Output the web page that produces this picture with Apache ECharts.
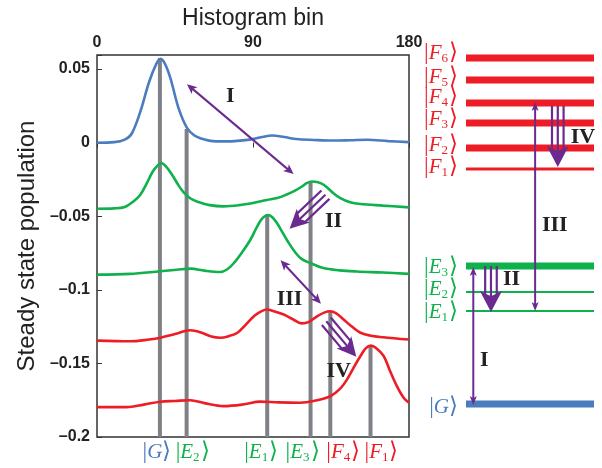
<!DOCTYPE html>
<html>
<head>
<meta charset="utf-8">
<script src="https://cdn.jsdelivr.net/npm/echarts@6/dist/echarts.min.js"></script>
<style>
  html, body { margin: 0; padding: 0; background: #fff; }
  #main { width: 602px; height: 468px; }
</style>
</head>
<body>
<div id="main"></div>
<script>
// histogram curves, [bin, population]
const blueCurve = [[0, -0.0001], [10, 0.0003], [16, 0.002], [20, 0.006], [25, 0.021], [30, 0.041], [34, 0.053], [36.5, 0.057],
  [39, 0.054], [42.3, 0.044], [47, 0.0236], [51.9, 0.010], [56, 0.005], [60, 0.0028], [67, 0.001], [75, 0.0008], [88, 0.002],
  [96, 0.004], [101, 0.0048], [108, 0.0038], [115, 0.0024], [125, 0.0018], [136, 0.0014], [146, 0.0016], [156, 0.0019],
  [168, 0.001], [180, 0.0003]]
const greenUpper = [[0, -0.0449], [10, -0.0447], [16, -0.0438], [21, -0.040], [25, -0.0354], [29, -0.027], [32, -0.020],
  [35, -0.0155], [37, -0.0139], [40, -0.0165], [43.3, -0.0218], [47, -0.029], [50, -0.0338], [54, -0.038], [58, -0.0402],
  [65, -0.0425], [73, -0.0433], [82, -0.0425], [90, -0.041], [98, -0.039], [104, -0.0377], [109, -0.0355], [113.4, -0.0332],
  [118, -0.030], [121, -0.0275], [124, -0.0264], [127, -0.0268], [131, -0.0288], [136, -0.034], [140.4, -0.0377],
  [146, -0.0405], [152, -0.0417], [165, -0.0428], [180, -0.044]]
const greenLower = [[0, -0.0897], [19, -0.0892], [36.5, -0.0874], [46, -0.0864], [54, -0.0856], [62, -0.087], [71, -0.0879],
  [75, -0.0862], [79, -0.0818], [84, -0.074], [88.5, -0.066], [92, -0.058], [95, -0.052], [98.5, -0.0492], [101, -0.0505],
  [104, -0.055], [107, -0.061], [110, -0.067], [114, -0.074], [118, -0.079], [123, -0.0818], [130, -0.085], [140, -0.0868],
  [150, -0.0876], [165, -0.0883], [180, -0.0892]]
const redUpper = [[0, -0.1345], [19, -0.135], [30, -0.1338], [36.5, -0.1326], [45, -0.130], [53.8, -0.1275], [60, -0.129],
  [66, -0.1318], [71, -0.1326], [76, -0.1315], [81, -0.1292], [86, -0.1235], [91, -0.1175], [95, -0.1145], [98, -0.1134],
  [102, -0.1145], [107.7, -0.1168], [113, -0.120], [118, -0.1228], [122, -0.122], [127, -0.118], [131, -0.1155],
  [134.6, -0.1146], [138, -0.116], [142.3, -0.1202], [147, -0.125], [152, -0.1292], [158, -0.1312], [165, -0.1322],
  [180, -0.1338]]
const redLower = [[0, -0.1797], [17, -0.1797], [27, -0.178], [36.5, -0.176], [45, -0.1755], [53.8, -0.175], [62, -0.177],
  [73, -0.179], [85, -0.1778], [94, -0.176], [105, -0.1765], [117, -0.1767], [127, -0.175], [134.6, -0.1723], [140, -0.1675],
  [144.2, -0.161], [148, -0.153], [152, -0.145], [155, -0.1398], [158, -0.1379], [161, -0.1395], [165.4, -0.145],
  [169, -0.155], [173, -0.1655], [177, -0.1735], [180, -0.1767]]

// state markers (gray bars)
const barBins = [36.3, 51.7, 98.2, 123.2, 134.6, 157.8]
const barTops = [0.0575, 0.0092, -0.049, -0.0264, -0.1146, -0.1379]
const barStates = ['G', 'E2', 'E1', 'E3', 'F4', 'F1']
const barLabelShift = [-3, 6, -6, -8, 13, 11]

// transitions drawn on the histogram: [bin1, pop1, bin2, pop2]
const plotDoubleArrows = [[51.9, 0.0397, 113.4, -0.0214], [105.9, -0.080, 129.2, -0.1094]]
const plotTripleArrows = [[131.8, -0.0354, 111.1, -0.0585], [132.3, -0.1214, 149.6, -0.1455]]
const romanNames = ['I', 'II', 'III', 'IV']
const plotRomanPos = [[76.9, 0.0313], [136.5, -0.0535], [111.1, -0.1062], [139.4, -0.1553]]

// level diagram (energy in arbitrary units)
const levelNames = ['G', 'E1', 'E2', 'E3', 'F1', 'F2', 'F3', 'F4', 'F5', 'F6']
const levelEnergy = [0, 93, 112, 138, 235, 256, 281, 301, 324, 346]
const levelWidth = [7, 2, 2, 7, 3, 7, 7, 7, 7, 7]
const levelLabelDy = [3, 1, -3, 1, -2, -3, -4, -6, -3, -5]
const levelDoubleArrows = [[0.057, -1, 0.057, 137], [0.54, 93, 0.54, 302]]
const levelTripleArrows = [[0.195, 138, 0.195, 92], [0.717, 298, 0.717, 237]]
const levelRomanPos = [[0.143, 44], [0.356, 125], [0.694, 179], [0.914, 267]]

const BLUE = '#4a7dbf', GREEN = '#0fb14c', RED = '#ee1d25', GRAY = '#808087', PURPLE = '#6b2a8f'

function stateColor(name) {
  return name[0] === 'G' ? BLUE : (name[0] === 'E' ? GREEN : RED)
}
function ketRich(color) {
  return {
    k: { fontFamily: 'Liberation Serif, DejaVu Sans', fontSize: 23, fontWeight: 'lighter', fill: color },
    i: { fontFamily: 'Liberation Serif', fontStyle: 'italic', fontSize: 21, fill: color },
    s: { fontFamily: 'Liberation Serif', fontSize: 13, fill: color, padding: [11, 1, 0, 0] }
  }
}
function ketText(name) {
  const sub = name.slice(1)
  return '{k||}{i|' + name[0] + '}' + (sub ? '{s|' + sub + '}' : '') + '{k|\u27E9}'
}

function arrowGroup(p1, p2, triple, head, half) {
  const dx = p2[0] - p1[0], dy = p2[1] - p1[1]
  const len = Math.hypot(dx, dy)
  const ux = dx / len, uy = dy / len, nx = -uy, ny = ux
  const kids = []
  function headAt(tip, sx, sy) {
    const bx = tip[0] - sx * head, by = tip[1] - sy * head
    const mx = tip[0] - sx * head * 0.75, my = tip[1] - sy * head * 0.75
    return { type: 'polygon', shape: { points: [[tip[0], tip[1]], [bx + nx * half, by + ny * half], [mx, my], [bx - nx * half, by - ny * half]] },
      style: { fill: PURPLE } }
  }
  if (!triple) {
    kids.push({ type: 'line', shape: { x1: p1[0] + ux * head * 0.5, y1: p1[1] + uy * head * 0.5, x2: p2[0] - ux * head * 0.5, y2: p2[1] - uy * head * 0.5 },
      style: { stroke: PURPLE, lineWidth: 2 } })
    kids.push(headAt(p2, ux, uy), headAt(p1, -ux, -uy))
  } else {
    const gap = 5.8
    for (const k of [-1, 0, 1]) {
      kids.push({ type: 'line', shape: { x1: p1[0] + nx * gap * k, y1: p1[1] + ny * gap * k,
        x2: p2[0] - ux * head * 0.7 + nx * gap * k, y2: p2[1] - uy * head * 0.7 + ny * gap * k },
        style: { stroke: PURPLE, lineWidth: 2.2 } })
    }
    kids.push(headAt(p2, ux, uy))
  }
  return { type: 'group', children: kids }
}

function arrowSeries(data, grid, triple, head, half) {
  return {
    type: 'custom', xAxisIndex: grid, yAxisIndex: grid, z: 10, silent: true, clip: false,
    data: data,
    renderItem: function (params, api) {
      const p1 = api.coord([api.value(0), api.value(1)])
      const p2 = api.coord([api.value(2), api.value(3)])
      return arrowGroup(p1, p2, triple, head, half)
    }
  }
}

function romanSeries(pos, grid) {
  return {
    type: 'custom', xAxisIndex: grid, yAxisIndex: grid, z: 11, silent: true, clip: false,
    data: pos,
    renderItem: function (params, api) {
      const p = api.coord([api.value(0), api.value(1)])
      return { type: 'text', x: p[0], y: p[1], style: { text: romanNames[params.dataIndex], align: 'center', verticalAlign: 'middle',
        fontFamily: 'Liberation Serif', fontWeight: 'bold', fontSize: 22, fill: '#222' } }
    }
  }
}

function curve(data, color) {
  return { type: 'line', data: data, smooth: 0.35, showSymbol: false, silent: true, z: 3,
    lineStyle: { color: color, width: 2.6 } }
}

function yLabel(v) {
  const k = v / 0.05
  if (Math.abs(k - Math.round(k)) > 1e-6) return ''
  if (Math.abs(v) < 1e-9) return '0'
  return (v < 0 ? '\u2013' : '') + parseFloat(Math.abs(v).toFixed(2)).toString()
}

const chart = echarts.init(document.getElementById('main'))

const option = {
  animation: false,
  grid: [
    { left: 97, right: 193, top: 55, bottom: 31, show: true, borderColor: '#333', borderWidth: 1.5 },
    { left: 466, right: 8, top: 48, bottom: 54 }
  ],
  xAxis: [
    { type: 'value', position: 'top', min: 0, max: 180, interval: 90,
      name: 'Histogram bin', nameLocation: 'middle', nameGap: 25,
      nameTextStyle: { fontFamily: 'Liberation Sans', fontSize: 23, color: '#222' },
      axisLine: { show: false }, splitLine: { show: false },
      axisTick: { inside: true, length: 5, lineStyle: { color: '#333' } },
      axisLabel: { margin: 4, fontFamily: 'Liberation Sans', fontWeight: 'bold', fontSize: 16, color: '#222' } },
    { type: 'value', gridIndex: 1, min: 0, max: 1, show: false }
  ],
  yAxis: [
    { type: 'value', min: -0.2, max: 0.0595, interval: 0.05,
      name: 'Steady state population', nameLocation: 'middle', nameGap: 58,
      nameTextStyle: { fontFamily: 'Liberation Sans', fontSize: 24, color: '#222' },
      axisLine: { show: false }, splitLine: { show: false },
      axisTick: { inside: true, length: 5, lineStyle: { color: '#333' } },
      axisLabel: { margin: 7, formatter: yLabel, fontFamily: 'Liberation Sans', fontWeight: 'bold', fontSize: 16, color: '#222' } },
    { type: 'value', gridIndex: 1, min: -10, max: 356, show: false }
  ],
  series: [
    {
      type: 'custom', z: 2, silent: true, clip: false,
      data: barBins.map((b, i) => [b, barTops[i]]),
      renderItem: function (params, api) {
        const i = params.dataIndex
        const top = api.coord([api.value(0), api.value(1)])
        const base = api.coord([api.value(0), -0.2])
        const color = stateColor(barStates[i])
        return { type: 'group', children: [
          { type: 'rect', shape: { x: top[0] - 2, y: top[1], width: 4, height: base[1] - top[1] }, style: { fill: GRAY } },
          { type: 'text', x: top[0] + barLabelShift[i], y: base[1] + 15,
            style: { text: ketText(barStates[i]), rich: ketRich(color), align: 'center', verticalAlign: 'middle' } }
        ] }
      }
    },
    curve(blueCurve, BLUE),
    curve(greenUpper, GREEN),
    curve(greenLower, GREEN),
    curve(redUpper, RED),
    curve(redLower, RED),
    arrowSeries(plotDoubleArrows, 0, false, 10, 4.5),
    arrowSeries(plotTripleArrows, 0, true, 19, 9.5),
    romanSeries(plotRomanPos, 0),
    {
      type: 'custom', xAxisIndex: 1, yAxisIndex: 1, z: 2, silent: true, clip: false,
      data: levelEnergy.map(e => [0, e]),
      renderItem: function (params, api) {
        const i = params.dataIndex
        const a = api.coord([0, api.value(1)])
        const b = api.coord([1, api.value(1)])
        const color = stateColor(levelNames[i])
        return { type: 'group', children: [
          { type: 'line', shape: { x1: a[0], y1: a[1], x2: b[0], y2: b[1] }, style: { stroke: color, lineWidth: levelWidth[i] } },
          { type: 'text', x: a[0] - 8, y: a[1] + levelLabelDy[i],
            style: { text: ketText(levelNames[i]), rich: ketRich(color), align: 'right', verticalAlign: 'middle' } }
        ] }
      }
    },
    arrowSeries(levelDoubleArrows, 1, false, 9, 3.5),
    arrowSeries(levelTripleArrows, 1, true, 21, 11),
    romanSeries(levelRomanPos, 1)
  ]
}

chart.setOption(option)
</script>
</body>
</html>
